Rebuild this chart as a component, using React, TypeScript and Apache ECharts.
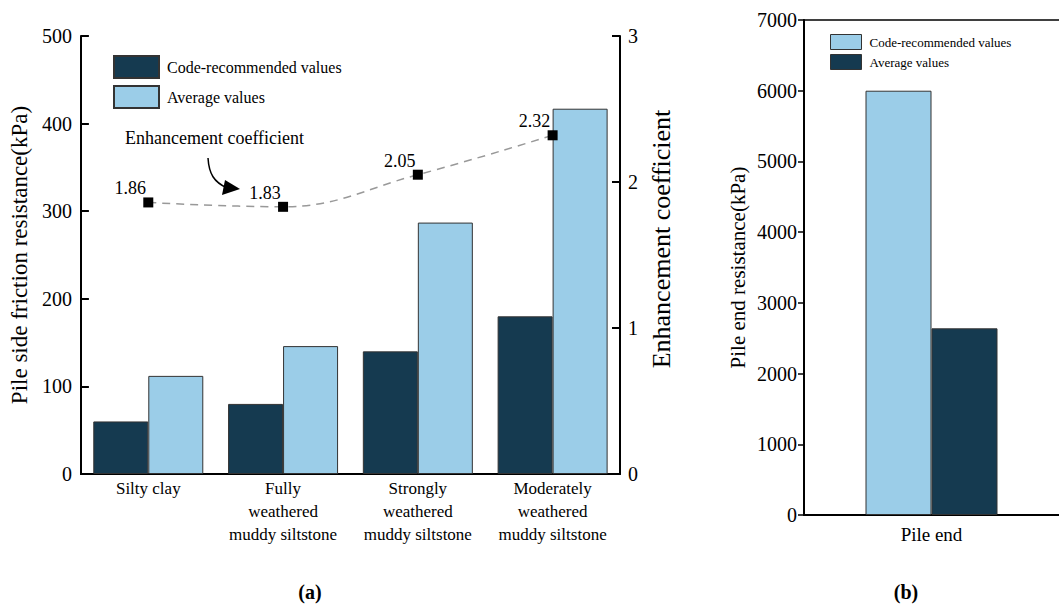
import React, { useEffect, useRef } from "react";
import * as echarts from "echarts";

const categories = [
  "Silty clay",
  "Fully\nweathered\nmuddy siltstone",
  "Strongly\nweathered\nmuddy siltstone",
  "Moderately\nweathered\nmuddy siltstone",
];
const codeValues = [60, 80, 140, 180];
const averageValues = [112, 146, 287, 417];
const enhancement = [1.86, 1.83, 2.05, 2.32];

const pileEndCategories = ["Pile end"];
const pileEndCode = [6000];
const pileEndAverage = [2640];

const leftTicks = [0, 500, 100];
const rightTicks = [0, 3, 1];
const pileEndTicks = [0, 7000, 1000];

const DARK = "#153a50";
const LIGHT = "#9bcde8";
const FONT = "'Times New Roman', 'Liberation Serif', 'DejaVu Serif', serif";

export default function App() {
  const ref = useRef<HTMLDivElement>(null);
  useEffect(() => {
    document.body.style.margin = "0";
    const chart = echarts.init(ref.current!, null, { renderer: "svg" });
    const axisLineStyle = { color: "#000", width: 2 };
    const plain = (v: number) => String(v);
    chart.setOption({
      animation: false,
      textStyle: { fontFamily: FONT, color: "#000" },
      grid: [
        { left: 77, top: 36, width: 543, height: 438 },
        { left: 804, top: 20, width: 262, height: 495 },
      ],
      legend: [
        {
          orient: "vertical",
          left: 113,
          top: 55,
          padding: 0,
          itemWidth: 45,
          itemHeight: 22,
          itemGap: 6,
          icon: "rect",
          data: ["Code-recommended values", "Average values"],
          textStyle: { fontFamily: FONT, fontSize: 16, color: "#000", padding: [0, 0, 0, 3] },
        },
        {
          orient: "vertical",
          left: 830,
          top: 34,
          padding: 0,
          itemWidth: 31,
          itemHeight: 15,
          itemGap: 4,
          icon: "rect",
          data: [
            { name: "Code-recommended values", itemStyle: { color: LIGHT, borderColor: "#333", borderWidth: 1 } },
            { name: "Average values", itemStyle: { color: DARK, borderColor: "#333", borderWidth: 1 } },
          ],
          textStyle: { fontFamily: FONT, fontSize: 13, color: "#000", padding: [0, 0, 0, 3] },
        },
      ],
      xAxis: [
        {
          type: "category",
          gridIndex: 0,
          data: categories,
          axisLine: { lineStyle: axisLineStyle },
          axisTick: { inside: true, alignWithLabel: true, length: 6, lineStyle: { color: "#000", width: 2 } },
          axisLabel: { fontSize: 17, lineHeight: 23, margin: 3, color: "#000", interval: 0, fontFamily: FONT },
        },
        {
          type: "category",
          gridIndex: 0,
          position: "top",
          data: categories,
          axisLine: { lineStyle: { color: "#000", width: 1.5 } },
          axisTick: { show: false },
          axisLabel: { show: false },
        },
        {
          type: "category",
          gridIndex: 1,
          data: pileEndCategories,
          axisLine: { lineStyle: axisLineStyle },
          axisTick: { show: false },
          axisLabel: { fontSize: 19, margin: 10, color: "#000", fontFamily: FONT },
        },
        {
          type: "category",
          gridIndex: 1,
          position: "top",
          data: pileEndCategories,
          axisLine: { lineStyle: { color: "#000", width: 1.5 } },
          axisTick: { show: false },
          axisLabel: { show: false },
        },
      ],
      yAxis: [
        {
          type: "value",
          gridIndex: 0,
          min: leftTicks[0],
          max: leftTicks[1],
          interval: leftTicks[2],
          name: "Pile side friction resistance(kPa)",
          nameLocation: "middle",
          nameGap: 46,
          nameTextStyle: { fontSize: 23, fontFamily: FONT, color: "#000" },
          splitLine: { show: false },
          axisLine: { show: true, lineStyle: axisLineStyle },
          axisTick: { show: true, inside: true, length: 8, lineStyle: { color: "#000", width: 2 } },
          axisLabel: { fontSize: 20, margin: 9, color: "#000", fontFamily: FONT, formatter: plain },
        },
        {
          type: "value",
          gridIndex: 0,
          position: "right",
          min: rightTicks[0],
          max: rightTicks[1],
          interval: rightTicks[2],
          name: "Enhancement coefficient",
          nameLocation: "middle",
          nameGap: 27,
          nameRotate: 90,
          nameTextStyle: { fontSize: 26, fontFamily: FONT, color: "#000", padding: [0, 0, 0, 32] },
          splitLine: { show: false },
          axisLine: { show: true, lineStyle: axisLineStyle },
          axisTick: { show: true, inside: true, length: 8, lineStyle: { color: "#000", width: 2 } },
          axisLabel: { fontSize: 20, margin: 8, color: "#000", fontFamily: FONT, formatter: plain },
        },
        {
          type: "value",
          gridIndex: 1,
          min: pileEndTicks[0],
          max: pileEndTicks[1],
          interval: pileEndTicks[2],
          name: "Pile end resistance(kPa)",
          nameLocation: "middle",
          nameGap: 56,
          nameTextStyle: { fontSize: 21, fontFamily: FONT, color: "#000" },
          splitLine: { show: false },
          axisLine: { show: true, lineStyle: axisLineStyle },
          axisTick: { show: true, inside: false, length: 6, lineStyle: { color: "#000", width: 1.5 } },
          axisLabel: { fontSize: 20, margin: 7, color: "#000", fontFamily: FONT, formatter: plain },
        },
      ],
      series: [
        {
          name: "Code-recommended values",
          type: "bar",
          xAxisIndex: 0,
          yAxisIndex: 0,
          data: codeValues,
          barWidth: 55,
          barGap: "0%",
          itemStyle: { color: DARK, borderColor: "#333", borderWidth: 1 },
        },
        {
          name: "Average values",
          type: "bar",
          xAxisIndex: 0,
          yAxisIndex: 0,
          data: averageValues,
          barWidth: 55,
          barGap: "0%",
          itemStyle: { color: LIGHT, borderColor: "#333", borderWidth: 1 },
        },
        {
          name: "Enhancement coefficient",
          type: "line",
          xAxisIndex: 0,
          yAxisIndex: 1,
          data: enhancement,
          smooth: 0.4,
          symbol: "rect",
          symbolSize: 10,
          z: 5,
          itemStyle: { color: "#000" },
          lineStyle: { color: "#999", width: 1.5, type: [8, 6] },
          label: {
            show: true,
            position: "top",
            distance: 0,
            offset: [-18, 0],
            fontSize: 18,
            fontFamily: FONT,
            color: "#000",
            formatter: (p: any) => p.value.toFixed(2),
          },
        },
        {
          name: "Code-recommended values",
          type: "bar",
          xAxisIndex: 2,
          yAxisIndex: 2,
          data: pileEndCode,
          barWidth: 66,
          barGap: "0%",
          itemStyle: { color: LIGHT, borderColor: "#333", borderWidth: 1 },
        },
        {
          name: "Average values",
          type: "bar",
          xAxisIndex: 2,
          yAxisIndex: 2,
          data: pileEndAverage,
          barWidth: 66,
          barGap: "0%",
          itemStyle: { color: DARK, borderColor: "#333", borderWidth: 1 },
        },
      ],
      graphic: [
        {
          type: "text",
          left: 125,
          top: 129,
          style: { text: "Enhancement coefficient", fontSize: 18, fontFamily: FONT, fill: "#000" },
        },
        {
          type: "bezierCurve",
          shape: { x1: 208, y1: 158, cpx1: 209, cpy1: 174, cpx2: 214, cpy2: 182, x2: 227, y2: 188 },
          style: { stroke: "#000", lineWidth: 1.5, fill: "none" },
        },
        {
          type: "polygon",
          shape: { points: [[240, 189], [225, 180], [222, 195]] },
          style: { fill: "#000" },
        },
        {
          type: "text",
          x: 310,
          y: 592,
          style: { text: "(a)", fontSize: 20, fontWeight: "bold", fontFamily: FONT, fill: "#000", textAlign: "center", textVerticalAlign: "middle" },
        },
        {
          type: "text",
          x: 906,
          y: 592,
          style: { text: "(b)", fontSize: 20, fontWeight: "bold", fontFamily: FONT, fill: "#000", textAlign: "center", textVerticalAlign: "middle" },
        },
      ],
    });
    return () => chart.dispose();
  }, []);
  return <div ref={ref} style={{ width: 1059, height: 604 }} />;
}
